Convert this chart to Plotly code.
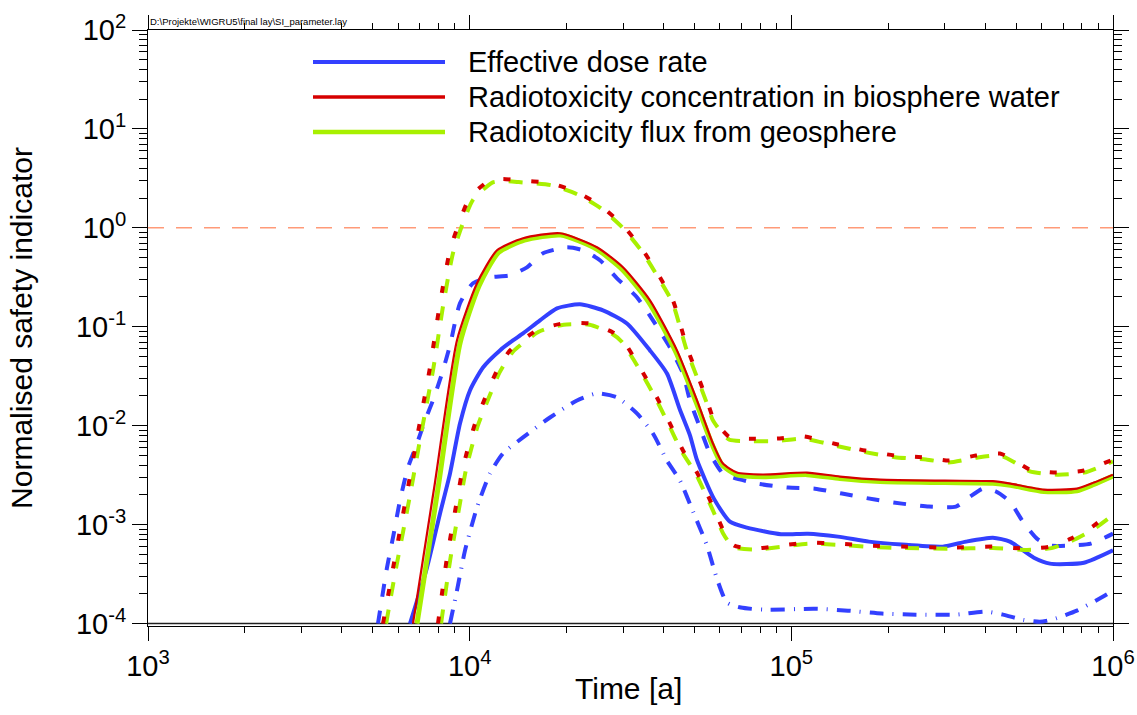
import plotly.graph_objects as go

# ---------------- data (time in years, normalised safety indicator) ----------------
# Effective dose rate
dose_ref_t = [6523, 7366, 8085, 8686, 9330, 10020, 11000, 12420, 13630, 14650, 16540, 18680, 22020,
              25970, 30830, 36350, 41060, 45050, 48400, 50900, 57440, 64440, 72780, 92840, 112600,
              139600, 174300, 220800, 295900, 348900, 423300, 478000, 567600, 636900, 812000, 1000000]
dose_ref_v = [1e-4, 3.67e-4, 1.29e-3, 3.28e-3, 0.0105, 0.0227, 0.0388, 0.0577, 0.0728, 0.0857, 0.116,
              0.1535, 0.1687, 0.1466, 0.108, 0.0577, 0.0337, 0.0145, 8.0e-3, 4.5e-3, 1.83e-3, 1.07e-3,
              9.33e-4, 8.0e-4, 8.1e-4, 7.56e-4, 6.73e-4, 6.28e-4, 5.99e-4, 6.73e-4, 7.38e-4, 6.73e-4,
              4.63e-4, 4.03e-4, 4.12e-4, 5.5e-4]

dose_hi_t = [5188, 5533, 5775, 6072, 6430, 6859, 7262, 7688, 8201, 8686, 9330, 10240, 11560, 13350,
             15070, 16900, 20070, 22500, 25410, 28710, 33110, 37140, 41950, 46030, 48400, 51990, 55840,
             61290, 65850, 78180, 97600, 118400, 143700, 181900, 220800, 267800, 324900, 359200,
             394100, 432500, 478000, 524800, 580000, 636900, 740000, 853700, 1000000]
dose_hi_v = [1e-4, 3.67e-4, 7.38e-4, 1.75e-3, 3.77e-3, 6.6e-3, 0.0113, 0.018, 0.0337, 0.0648, 0.1726,
             0.275, 0.316, 0.331, 0.399, 0.553, 0.637, 0.593, 0.47, 0.309, 0.199, 0.116, 0.0618, 0.0337,
             0.018, 9.6e-3, 5.24e-3, 3.28e-3, 2.99e-3, 2.6e-3, 2.37e-3, 2.31e-3, 2.06e-3, 1.79e-3,
             1.63e-3, 1.52e-3, 1.52e-3, 1.92e-3, 2.31e-3, 2.16e-3, 1.71e-3, 1.07e-3, 7.21e-4, 6.14e-4,
             6.14e-4, 6.43e-4, 8.1e-4]

dose_lo_t = [8686, 9130, 9670, 10540, 11560, 12690, 14650, 17770, 21560, 24870, 28710, 33110, 37140,
             41060, 45050, 49450, 54660, 58700, 63050, 69700, 82200, 118400, 150000, 191200, 243900,
             324900, 402700, 454800, 524800, 592700, 655200, 772000, 917300, 1000000]
dose_lo_v = [1e-4, 2.15e-4, 5.46e-4, 1.49e-3, 3.28e-3, 5.24e-3, 7.6e-3, 0.0121, 0.018, 0.0212, 0.0193,
             0.0133, 8.34e-3, 4.44e-3, 2.79e-3, 1.36e-3, 6.14e-4, 2.84e-4, 1.63e-4, 1.45e-4, 1.38e-4,
             1.41e-4, 1.35e-4, 1.26e-4, 1.23e-4, 1.23e-4, 1.32e-4, 1.23e-4, 1.09e-4, 1.04e-4, 1.11e-4,
             1.35e-4, 1.82e-4, 2.15e-4]

# Radiotoxicity concentration in biosphere water
conc_ref_t = [6665, 7800, 9130, 10540, 12160, 14650, 19090, 24870, 29960, 36350, 44100, 50900, 57060,
              61290, 67750, 81600, 111800, 141600, 188600, 300000, 423000, 480000, 610000, 772000,
              872000, 1000000]
conc_ref_v = [1.0e-4, 2.66e-3, 0.0728, 0.275, 0.593, 0.785, 0.882, 0.637, 0.399, 0.185, 0.0577, 0.018,
              6.6e-3, 4.14e-3, 3.36e-3, 3.21e-3, 3.36e-3, 3.06e-3, 2.85e-3, 2.78e-3, 2.75e-3, 2.6e-3,
              2.26e-3, 2.31e-3, 2.66e-3, 3.2e-3]

conc_hi_t = [5378, 5775, 6072, 6430, 6906, 7527, 8085, 8686, 9330, 10020, 11560, 12700, 14030, 17770,
             21560, 25410, 29960, 34570, 39040, 42850, 47370, 50900, 54660, 57060, 59990, 64440, 72780,
             90220, 108700, 139600, 169400, 209900, 262100, 309000, 374800, 445000, 488500, 551700,
             669300, 812000, 1000000]
conc_hi_v = [1e-4, 3.59e-4, 8.7e-4, 2.37e-3, 8.5e-3, 0.0388, 0.1726, 0.593, 1.19, 2.04, 3.03, 3.12,
             3.03, 2.83, 2.29, 1.69, 1.06, 0.593, 0.316, 0.185, 0.0618, 0.0337, 0.018, 0.0121, 9.6e-3,
             7.6e-3, 7.4e-3, 7.4e-3, 7.8e-3, 6.45e-3, 5.61e-3, 4.99e-3, 4.76e-3, 4.44e-3, 4.99e-3,
             5.23e-3, 4.55e-3, 3.6e-3, 3.36e-3, 3.52e-3, 4.55e-3]

conc_lo_t = [7972, 8500, 9130, 9530, 10390, 11320, 12160, 13350, 16190, 19500, 23650, 27890, 29960,
             33830, 38210, 41950, 46040, 50900, 57440, 61730, 66310, 76500, 92840, 112600, 139600,
             174300, 220800, 309000, 423300, 539900, 636900, 740000, 872000, 1000000]
conc_lo_v = [1e-4, 4.63e-4, 1.75e-3, 3.77e-3, 0.0105, 0.0212, 0.0362, 0.0577, 0.092, 0.108, 0.108,
             0.0877, 0.0728, 0.0388, 0.0193, 0.0105, 5.61e-3, 3.36e-3, 1.45e-3, 8.5e-4, 6.14e-4,
             5.72e-4, 6.14e-4, 6.58e-4, 6.43e-4, 6.14e-4, 5.99e-4, 5.85e-4, 5.99e-4, 5.72e-4, 5.99e-4,
             7.21e-4, 9.77e-4, 1.42e-3]

# Radiotoxicity flux from geosphere
flux_ref_t = [6860, 8000, 9330, 10700, 12300, 14800, 19200, 24800, 29800, 36000, 43700, 50500, 56800,
              61000, 67500, 81600, 111800, 141600, 188600, 300000, 423000, 480000, 610000, 772000,
              872000, 1000000]
flux_ref_v = [1.0e-4, 2.5e-3, 0.068, 0.26, 0.565, 0.75, 0.845, 0.61, 0.38, 0.178, 0.056, 0.0175,
              6.4e-3, 4.0e-3, 3.2e-3, 3.05e-3, 3.2e-3, 2.92e-3, 2.72e-3, 2.66e-3, 2.62e-3, 2.5e-3,
              2.16e-3, 2.2e-3, 2.55e-3, 3.1e-3]

flux_hi_t = [5500, 5900, 6210, 6580, 7060, 7700, 8270, 8880, 9540, 10250, 11800, 12900, 14200, 17900,
             21600, 25400, 29900, 34500, 38900, 42700, 47200, 50700, 54500, 56900, 59800, 64200, 72800,
             90200, 108700, 139600, 169400, 209900, 262100, 309000, 374800, 445000, 488500, 551700,
             669300, 812000, 1000000]
flux_hi_v = [1e-4, 3.6e-4, 8.5e-4, 2.3e-3, 8.2e-3, 0.037, 0.164, 0.56, 1.13, 1.93, 2.88, 2.96, 2.9,
             2.7, 2.18, 1.6, 1.0, 0.565, 0.3, 0.176, 0.059, 0.032, 0.0172, 0.0115, 9.1e-3, 7.2e-3,
             7.0e-3, 7.0e-3, 7.4e-3, 6.2e-3, 5.4e-3, 4.8e-3, 4.55e-3, 4.25e-3, 4.75e-3, 5.0e-3,
             4.35e-3, 3.45e-3, 3.2e-3, 3.35e-3, 4.35e-3]

flux_lo_t = [8150, 8700, 9330, 9740, 10600, 11550, 12400, 13600, 16400, 19600, 23600, 27700, 29700,
             33600, 37900, 41600, 45700, 50500, 57000, 61300, 65900, 76500, 92840, 112600, 139600,
             174300, 220800, 309000, 423300, 539900, 636900, 740000, 872000, 1000000]
flux_lo_v = [1e-4, 4.4e-4, 1.65e-3, 3.6e-3, 0.0100, 0.0203, 0.0348, 0.0555, 0.089, 0.105, 0.105,
             0.085, 0.0705, 0.0378, 0.0188, 0.0102, 5.45e-3, 3.25e-3, 1.4e-3, 8.2e-4, 5.95e-4, 5.6e-4,
             5.95e-4, 6.4e-4, 6.25e-4, 5.95e-4, 5.8e-4, 5.7e-4, 5.8e-4, 5.55e-4, 5.75e-4, 6.8e-4,
             9.0e-4, 1.25e-3]

# reference level and lower plot floor
limit_t = [1e3, 1e6]
limit_v = [1.0, 1.0]
floor_t = [1e3, 1e6]
floor_v = [1e-4, 1e-4]

legend_names = ["Effective dose rate",
                "Radiotoxicity concentration in biosphere water",
                "Radiotoxicity flux from geosphere"]

x_tickvals = [1e3, 1e4, 1e5, 1e6]
x_ticktext = ["10<sup>3</sup>", "10<sup>4</sup>", "10<sup>5</sup>", "10<sup>6</sup>"]
y_tickvals = [1e-4, 1e-3, 1e-2, 1e-1, 1e0, 1e1, 1e2]
y_ticktext = ["10<sup>-4</sup>", "10<sup>-3</sup>", "10<sup>-2</sup>", "10<sup>-1</sup>",
              "10<sup>0</sup>", "10<sup>1</sup>", "10<sup>2</sup>"]
x_minor = [m * 10 ** e for e in (3, 4, 5) for m in range(2, 10)]
y_minor = [m * 10.0 ** e for e in range(-4, 2) for m in range(2, 10)]

# ---------------- styling ----------------
BLUE = "#3340ff"
RED = "#d60000"
GREEN = "#a8f000"
SALMON = "#ff9a78"
FONT = "Liberation Sans"

W, H = 1137, 715
ML, MR, MT, MB = 148, 24, 30, 89

fig = go.Figure()


def add(t, v, color, width, dash, smooth=0.6):
    fig.add_trace(go.Scatter(
        x=t, y=v, mode="lines", showlegend=False, hoverinfo="skip",
        line=dict(color=color, width=width, dash=dash, shape="spline", smoothing=smooth)))


add(limit_t, limit_v, SALMON, 1.5, "16px,12px", 0)
add(floor_t, floor_v, "#202020", 1.5, "solid", 0)

add(dose_lo_t, dose_lo_v, BLUE, 4, "14px,9px,1px,9px")
add(dose_hi_t, dose_hi_v, BLUE, 4, "13px,14px")
add(dose_ref_t, dose_ref_v, BLUE, 4, "solid")

add(flux_lo_t, flux_lo_v, GREEN, 4, "14px,14px")
add(conc_lo_t, conc_lo_v, RED, 4, "7px,21px")
add(flux_hi_t, flux_hi_v, GREEN, 4, "14px,14px")
add(conc_hi_t, conc_hi_v, RED, 4, "7px,21px")

add(flux_ref_t, flux_ref_v, GREEN, 5, "solid")
add(conc_ref_t, conc_ref_v, RED, 2.2, "solid")

# ---------------- manual legend ----------------
pw = W - ML - MR
ph = H - MT - MB


def px2paper_x(px):
    return (px - ML) / pw


def px2paper_y(py):
    return (H - MB - py) / ph


legend_colors = [BLUE, RED, GREEN]
legend_widths = [4, 3.5, 4.5]
legend_rows = [62, 97, 132]
shapes = []
annotations = []
for name, col, lw, row in zip(legend_names, legend_colors, legend_widths, legend_rows):
    shapes.append(dict(type="line", xref="paper", yref="paper",
                       x0=px2paper_x(313), x1=px2paper_x(445),
                       y0=px2paper_y(row), y1=px2paper_y(row),
                       line=dict(color=col, width=lw)))
    annotations.append(dict(xref="paper", yref="paper", x=px2paper_x(466), y=px2paper_y(row),
                            xanchor="left", yanchor="middle", showarrow=False, text=name,
                            font=dict(family=FONT, size=29, color="black")))

annotations.append(dict(xref="paper", yref="paper", x=0, y=1, xanchor="left", yanchor="bottom",
                        yshift=1, showarrow=False,
                        text=r"D:\Projekte\WIGRU5\final lay\SI_parameter.lay",
                        font=dict(family=FONT, size=9.5, color="black")))

# x-axis title placed as text below the tick labels
annotations.append(dict(xref="paper", yref="paper", x=px2paper_x(628), y=px2paper_y(688),
                        xanchor="center", yanchor="middle", showarrow=False, text="Time [a]",
                        font=dict(family=FONT, size=30, color="black")))

axis_common = dict(
    type="log", showgrid=False, zeroline=False, showline=True, linecolor="black", linewidth=1,
    mirror="allticks", ticks="outside", tickcolor="black", tickwidth=1, tickmode="array",
    automargin=False, tickfont=dict(family=FONT, size=29, color="black"),
)

fig.update_layout(
    width=W, height=H, margin=dict(l=ML, r=MR, t=MT, b=MB, pad=0, autoexpand=False),
    paper_bgcolor="white", plot_bgcolor="white", showlegend=False,
    font=dict(family=FONT, color="black"),
    xaxis=dict(axis_common, range=[3, 6], tickvals=x_tickvals, ticktext=x_ticktext, ticklen=14,
               minor=dict(tickmode="array", tickvals=x_minor, ticks="outside", ticklen=6,
                          tickcolor="black", tickwidth=1, showgrid=False)),
    yaxis=dict(axis_common, range=[-4.025, 2], tickvals=y_tickvals, ticktext=y_ticktext,
               ticklen=15,
               minor=dict(tickmode="array", tickvals=y_minor, ticks="outside", ticklen=8,
                          tickcolor="black", tickwidth=1, showgrid=False),
               title=dict(text="Normalised safety indicator",
                          font=dict(family=FONT, size=30, color="black"), standoff=34)),
    shapes=shapes, annotations=annotations,
)

fig.write_html("out.html")
